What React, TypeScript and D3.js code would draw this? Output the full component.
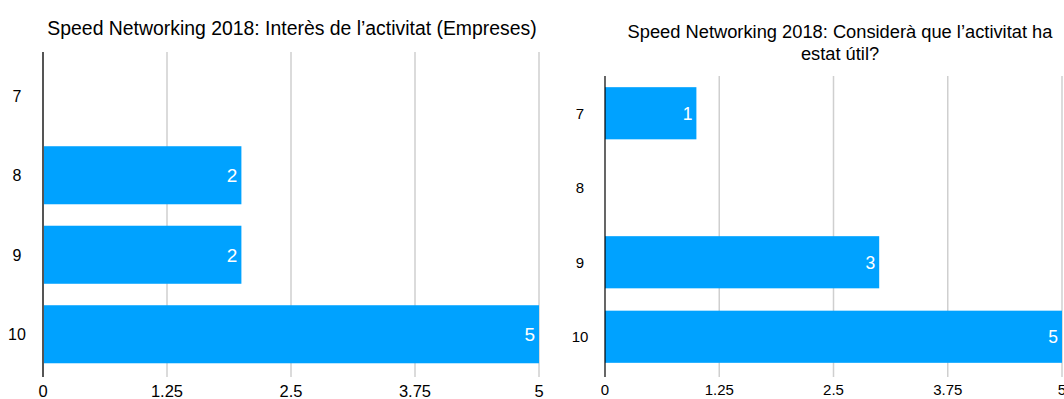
import React from "react";
import * as d3 from "d3";

const categories = ["7", "8", "9", "10"];
const interesValues = [0, 2, 2, 5];
const utilValues = [1, 0, 3, 5];
const tickValues = [0, 1.25, 2.5, 3.75, 5];
const tickLabels = ["0", "1.25", "2.5", "3.75", "5"];
const titleLeft = ["Speed Networking 2018: Interès de l’activitat (Empreses)"];
const titleRight = ["Speed Networking 2018: Considerà que l’activitat ha", "estat útil?"];

const FONT = "'Liberation Sans', Arial, Helvetica, sans-serif";
const BAR = "#00A2FF";

type PanelProps = {
  values: number[];
  title: string[];
  x0: number;
  x1: number;
  top: number;
  bandTop: number;
  bandBottom: number;
  bottom: number;
  titleX: number;
  titleY: number;
  titleSize: number;
  lineGap: number;
  catX: number;
  catSize: number;
  tickSize: number;
  tickY: number;
  valueSize: number;
  axisColor: string;
  axisWidth: number;
  padding: number;
};

function Panel(p: PanelProps) {
  const x = d3.scaleLinear().domain([0, 5]).range([p.x0, p.x1]);
  const y = d3
    .scaleBand<string>()
    .domain(categories)
    .range([p.bandTop, p.bandBottom])
    .paddingInner(p.padding)
    .paddingOuter(p.padding / 2);
  return (
    <g>
      {p.title.map((t, i) => (
        <text
          key={i}
          x={p.titleX}
          y={p.titleY + i * p.lineGap}
          textAnchor="middle"
          fontSize={p.titleSize}
          fill="#000"
        >
          {t}
        </text>
      ))}
      {tickValues.slice(1).map((t) => (
        <line
          key={t}
          x1={x(t)}
          x2={x(t)}
          y1={p.top}
          y2={p.bottom}
          stroke="#cfcfcf"
          strokeWidth={1.5}
        />
      ))}
      {categories.map((c, i) =>
        p.values[i] > 0 ? (
          <g key={c}>
            <rect
              x={x(0)}
              y={y(c)!}
              width={x(p.values[i]) - x(0)}
              height={y.bandwidth()}
              fill={BAR}
            />
            <text
              x={x(p.values[i]) - 4}
              y={y(c)! + y.bandwidth() / 2}
              dy="0.36em"
              textAnchor="end"
              fontSize={p.valueSize}
              fill="#fff"
            >
              {p.values[i]}
            </text>
          </g>
        ) : null
      )}
      {categories.map((c) => (
        <text
          key={c}
          x={p.catX}
          y={y(c)! + y.bandwidth() / 2}
          dy="0.36em"
          textAnchor="middle"
          fontSize={p.catSize}
          fill="#000"
        >
          {c}
        </text>
      ))}
      <line
        x1={x(0)}
        x2={x(0)}
        y1={p.top}
        y2={p.bottom}
        stroke={p.axisColor}
        strokeWidth={p.axisWidth}
      />
      {tickValues.map((t, i) => (
        <text
          key={t}
          x={x(t)}
          y={p.tickY}
          textAnchor="middle"
          fontSize={p.tickSize}
          fill="#000"
        >
          {tickLabels[i]}
        </text>
      ))}
    </g>
  );
}

export default function App() {
  return (
    <svg
      width={1064}
      height={399}
      style={{ position: "absolute", left: 0, top: 0, background: "#fff" }}
      fontFamily={FONT}
    >
      <rect width={1064} height={399} fill="#fff" />
      <Panel
        values={interesValues}
        title={titleLeft}
        x0={43}
        x1={539}
        top={52}
        bandTop={56}
        bandBottom={374}
        bottom={377}
        titleX={292}
        titleY={35}
        titleSize={19.4}
        lineGap={22}
        catX={17}
        catSize={16}
        tickSize={16.5}
        tickY={397}
        valueSize={19}
        axisColor="#555"
        axisWidth={2}
        padding={0.27}
      />
      <Panel
        values={utilValues}
        title={titleRight}
        x0={605}
        x1={1062}
        top={76}
        bandTop={76}
        bandBottom={374}
        bottom={377}
        titleX={840}
        titleY={38}
        titleSize={18.3}
        lineGap={21.5}
        catX={580}
        catSize={15}
        tickSize={15}
        tickY={395}
        valueSize={17.5}
        axisColor="#000"
        axisWidth={1.2}
        padding={0.3}
      />
    </svg>
  );
}
